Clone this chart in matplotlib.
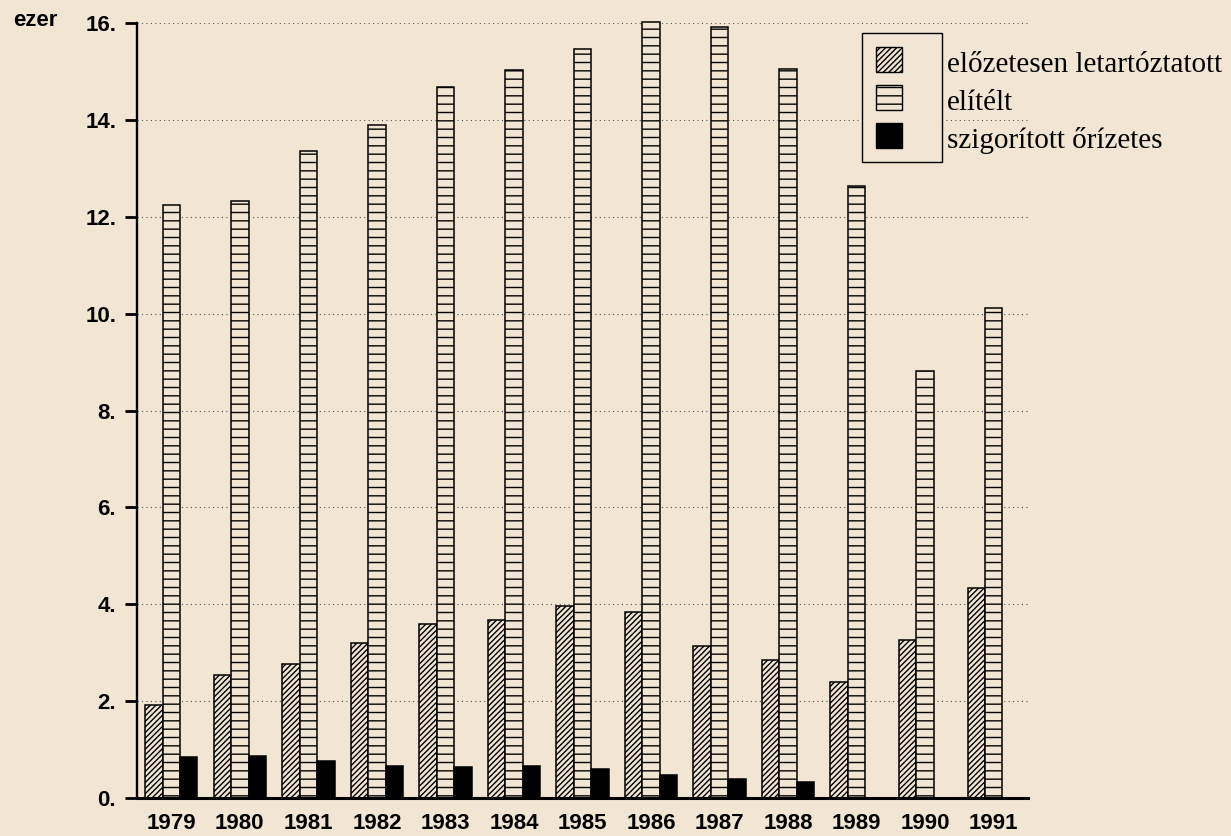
import matplotlib
matplotlib.use("Agg")
import matplotlib.pyplot as plt
from matplotlib.patches import Rectangle
import numpy as np

years = ["1979", "1980", "1981", "1982", "1983", "1984", "1985",
         "1986", "1987", "1988", "1989", "1990", "1991"]
elozetes = [1.92, 2.53, 2.77, 3.20, 3.60, 3.68, 3.96, 3.84, 3.13, 2.84, 2.40, 3.26, 4.34]
elitelt = [12.25, 12.33, 13.35, 13.90, 14.67, 15.03, 15.46, 16.03, 15.92, 15.05, 12.64, 8.82, 10.11]
szigoritott = [0.84, 0.87, 0.77, 0.67, 0.64, 0.67, 0.59, 0.47, 0.39, 0.34, 0.0, 0.0, 0.0]
series_labels = ["előzetesen letartóztatott", "elítélt", "szigorított őrízetes"]
yticks = [0, 2, 4, 6, 8, 10, 12, 14, 16]
ytick_labels = ["0.", "2.", "4.", "6.", "8.", "10.", "12.", "14.", "16."]
unit_label = "ezer"

BG = "#f2e5d4"
W, H = 1231, 836
plt.rcParams["hatch.linewidth"] = 1.0

fig = plt.figure(figsize=(W / 100, H / 100), dpi=100, facecolor=BG)
ax = fig.add_axes([137 / W, 1 - 798 / H, (1028 - 137) / W, (798 - 23) / H])
ax.set_facecolor(BG)

x = np.arange(len(years))
bw = 0.255
b1 = ax.bar(x - bw, elozetes, bw, facecolor=BG, edgecolor="black", hatch="//////",
            linewidth=1.1, zorder=3)
b2 = ax.bar(x, elitelt, bw, facecolor=BG, edgecolor="black", hatch="--",
            linewidth=1.1, zorder=3)
b3 = ax.bar(x + bw, szigoritott, bw, facecolor="black", edgecolor="black",
            linewidth=1.1, zorder=3)
for bars in (b1, b2, b3):
    for r in bars:
        r.set_clip_on(False)

ax.set_xlim(-0.5, 12.5)
ax.set_ylim(0, 16)
ax.set_yticks(yticks)
ax.set_yticklabels(ytick_labels, fontsize=16, family="Liberation Sans", fontweight="bold")
ax.set_xticks(x)
ax.set_xticklabels(years, fontsize=16, family="Liberation Sans", fontweight="bold")
ax.tick_params(axis="y", direction="out", length=9, width=2, pad=6, colors="black")
ax.tick_params(axis="x", length=0, pad=11)

ax.spines["top"].set_visible(False)
ax.spines["right"].set_visible(False)
ax.spines["left"].set_linewidth(1.7)
ax.spines["bottom"].set_linewidth(2.2)
ax.spines["left"].set_zorder(4)
ax.spines["bottom"].set_zorder(4)

ax.set_axisbelow(True)
ax.yaxis.grid(True, linestyle=(0, (1, 3)), color="#555555", linewidth=0.8)

fig.text(13 / W, 1 - 20 / H, unit_label, fontsize=16, family="Liberation Sans",
         fontweight="bold", va="center", ha="left")

# legend (manual)
def fx(px):
    return px / W

def fy(py):
    return 1 - py / H

tf = fig.transFigure
fig.patches.append(Rectangle((fx(862), fy(162)), fx(942) - fx(862), fy(33) - fy(162),
                             transform=tf, facecolor=BG, edgecolor="black",
                             linewidth=1.0, zorder=5))
hatches = ["//////", "--", None]
faces = [BG, BG, "black"]
tops = [47, 85, 123]
for h, fc, t, lab in zip(hatches, faces, tops, series_labels):
    fig.patches.append(Rectangle((fx(876), fy(t + 25)), fx(902) - fx(876), fy(t) - fy(t + 25),
                                 transform=tf, facecolor=fc, edgecolor="black",
                                 hatch=h, linewidth=1.0, zorder=6))
    fig.text(fx(947), fy(t + 25.5), lab, fontsize=21, family="Liberation Serif",
             va="baseline", ha="left", zorder=6)

fig.savefig("out.png", dpi=100, facecolor=BG)
